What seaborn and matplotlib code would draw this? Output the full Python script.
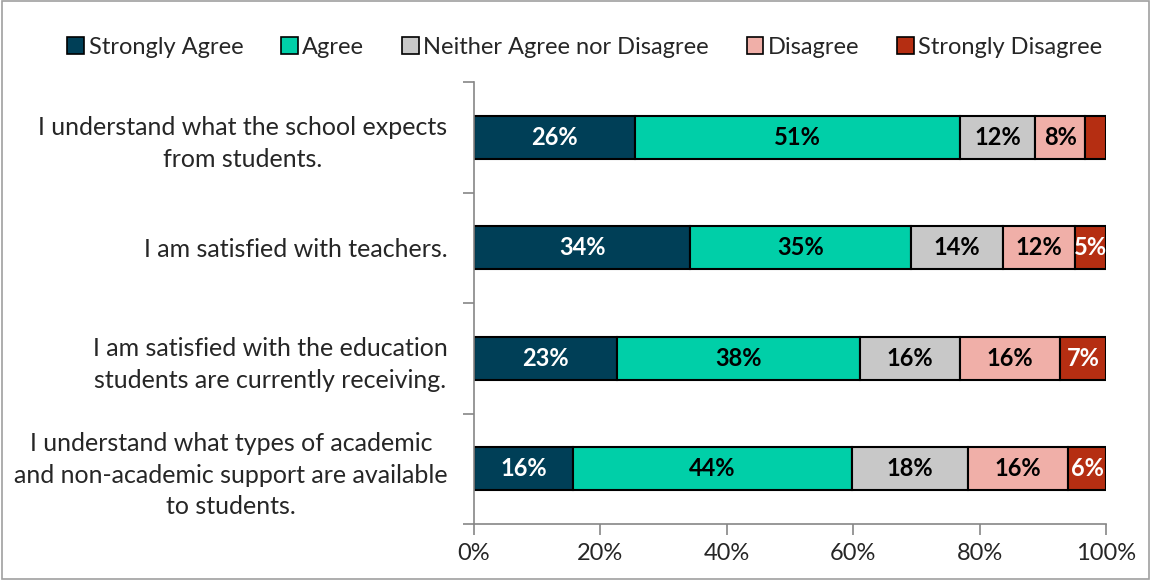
import numpy as np
import pandas as pd
import matplotlib
matplotlib.use("Agg")
import matplotlib.pyplot as plt
from matplotlib.patches import Rectangle, Patch
import seaborn as sns

categories = [
    "I understand what the school expects\nfrom students.",
    "I am satisfied with teachers.",
    "I am satisfied with the education\nstudents are currently receiving.",
    "I understand what types of academic\nand non-academic support are available\nto students.",
]
series_names = ["Strongly Agree", "Agree", "Neither Agree nor Disagree", "Disagree", "Strongly Disagree"]
strongly_agree = [25.5, 34.2, 22.6, 15.7]
agree = [51.4, 34.9, 38.5, 44.1]
neither = [11.9, 14.6, 15.8, 18.4]
disagree = [7.9, 11.4, 15.8, 15.8]
strongly_disagree = [3.3, 4.9, 7.3, 6.0]
label_texts = [
    ["26%", "34%", "23%", "16%"],
    ["51%", "35%", "38%", "44%"],
    ["12%", "14%", "16%", "18%"],
    ["8%", "12%", "16%", "16%"],
    ["", "5%", "7%", "6%"],
]
colors = ["#003F57", "#00CFA8", "#C8C8C8", "#F0AFA8", "#B52E12"]
text_colors = ["white", "black", "black", "black", "white"]

sns.set_theme(style="white")
plt.rcParams["font.family"] = ["Lato", "DejaVu Sans"]

fig = plt.figure(figsize=(11.51, 5.81), dpi=100)
ax = fig.add_axes([474 / 1151, 1 - 524 / 581, 632 / 1151, 442 / 581])

values = [strongly_agree, agree, neither, disagree, strongly_disagree]
left = np.zeros(len(categories))
for name, vals, col, tcol, labs in zip(series_names, values, colors, text_colors, label_texts):
    df = pd.DataFrame({"cat": categories, "val": vals})
    sns.barplot(data=df, y="cat", x="val", orient="h", color=col, left=left.copy(),
                width=0.39, edgecolor="black", linewidth=1.5, saturation=1, ax=ax)
    cont = ax.containers[-1]
    ax.bar_label(cont, labels=labs, label_type="center", color=tcol,
                 fontsize=17, fontweight="bold")
    left += np.array(vals)

ax.set_xlim(0, 100)
ax.set_ylim(3.5, -0.5)
ax.set_xticks([0, 20, 40, 60, 80, 100])
ax.set_xticklabels(["0%", "20%", "40%", "60%", "80%", "100%"], fontsize=17)
ax.set_xlabel("")
ax.set_ylabel("")
ax.tick_params(axis="y", which="major", length=0, pad=19, labelsize=18)
ax.set_yticks(np.arange(-0.5, 4.0, 1.0), minor=True)
ax.tick_params(axis="y", which="minor", length=8, direction="out", color="#868686", width=1.2, left=True)
ax.tick_params(axis="x", which="major", length=8, direction="out", color="#868686", width=1.2, bottom=True, pad=6)
plt.setp(ax.get_yticklabels(), multialignment="center", linespacing=1.45)
for s in ["top", "right"]:
    ax.spines[s].set_visible(False)
for s in ["left", "bottom"]:
    ax.spines[s].set_color("#868686")
    ax.spines[s].set_linewidth(1.2)

handles = [Patch(facecolor=c, edgecolor="black", linewidth=1.2) for c in colors]
fig.legend(handles, series_names, loc="center", bbox_to_anchor=(585 / 1151, 1 - 47 / 581),
           ncol=5, frameon=False, fontsize=17, handlelength=0.7, handleheight=0.7,
           handletextpad=0.2, columnspacing=1.6)

fig.patches.append(Rectangle((0.002, 0.004), 0.996, 0.994, transform=fig.transFigure,
                             fill=False, edgecolor="#A0A0A0", linewidth=1.2))

fig.savefig("out.png", dpi=100)
